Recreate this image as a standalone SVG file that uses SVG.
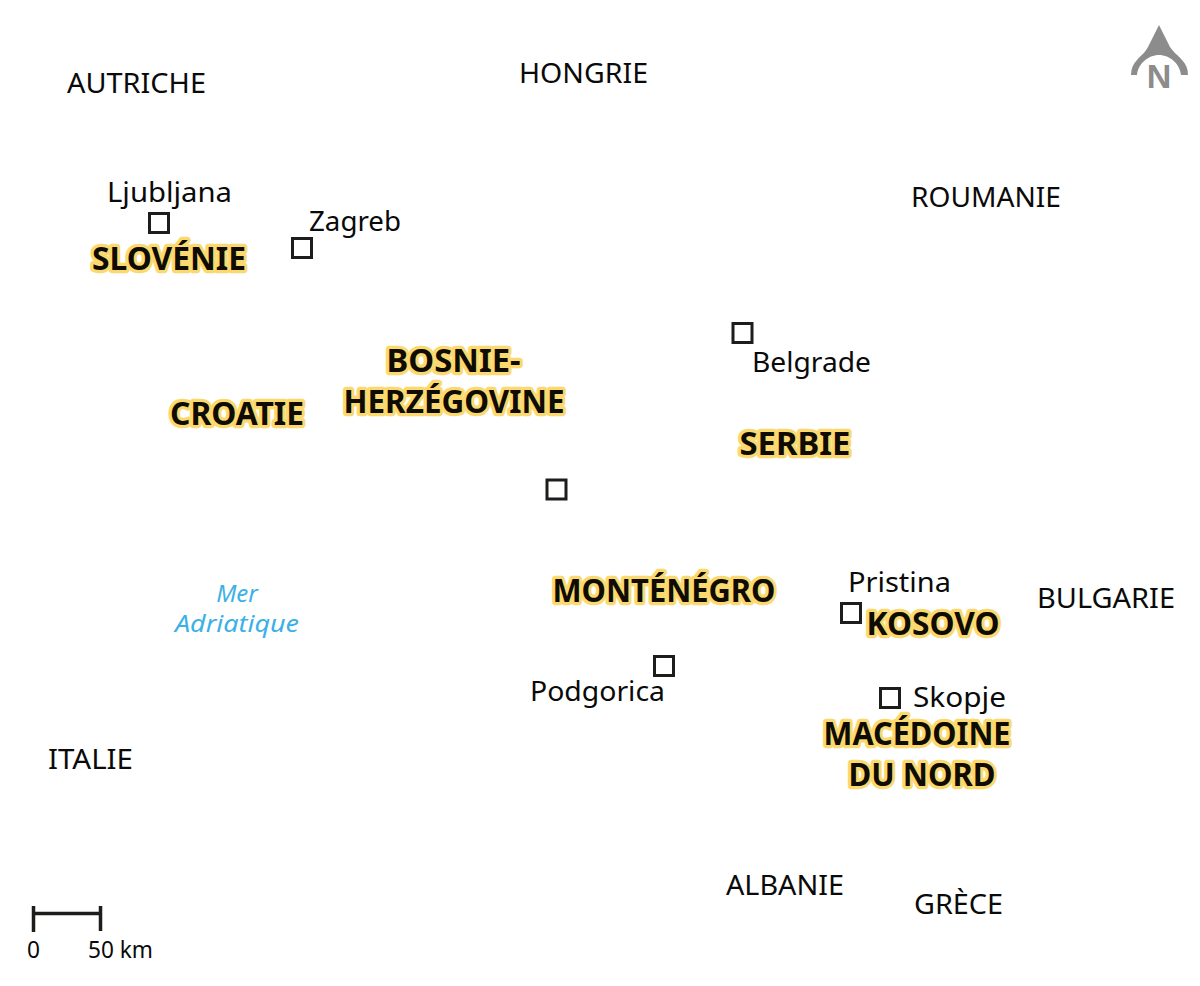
<svg xmlns="http://www.w3.org/2000/svg" width="1200" height="986" viewBox="0 0 1200 986">
<style>
text{font-family:"Noto Sans","Open Sans","Liberation Sans",sans-serif;fill:#0a0a0a}
.c{font-size:28px}
.t{font-size:27px}
.h{font-size:32px;font-weight:700;text-anchor:middle;stroke:#fbd96f;stroke-width:6.500px;paint-order:stroke;stroke-linejoin:round;fill:#0f0c04}
.sea{font-size:24px;font-style:italic;fill:#3cb1e6;text-anchor:middle}
.sc{font-size:23px}
.m{fill:#fff;stroke:#1d1d1b;stroke-width:3px}
</style>
<rect width="1200" height="986" fill="#fff"/>
<g id="neighbours">
<text class="c" x="67" y="93" textLength="139" lengthAdjust="spacingAndGlyphs">AUTRICHE</text>
<text class="c" x="519" y="83" textLength="129" lengthAdjust="spacingAndGlyphs">HONGRIE</text>
<text class="c" x="911" y="206.500" textLength="150" lengthAdjust="spacingAndGlyphs">ROUMANIE</text>
<text class="c" x="1037" y="608" textLength="138" lengthAdjust="spacingAndGlyphs">BULGARIE</text>
<text class="c" x="48" y="769" textLength="85" lengthAdjust="spacingAndGlyphs">ITALIE</text>
<text class="c" x="726" y="895" textLength="118" lengthAdjust="spacingAndGlyphs">ALBANIE</text>
<text class="c" x="914" y="914" textLength="89" lengthAdjust="spacingAndGlyphs">GRÈCE</text>
</g>
<g id="sea">
<text class="sea" x="237" y="602">Mer</text>
<text class="sea" x="237" y="632" textLength="124" lengthAdjust="spacingAndGlyphs">Adriatique</text>
</g>
<g id="slovenie">
<rect class="m" x="149.500" y="213.500" width="19" height="19"/>
<text class="t" x="107" y="201.500" textLength="125" lengthAdjust="spacingAndGlyphs">Ljubljana</text>
<text class="h" x="169" y="269.500" textLength="154" lengthAdjust="spacingAndGlyphs">SLOVÉNIE</text>
</g>
<g id="croatie">
<rect class="m" x="292.500" y="238.500" width="19" height="19"/>
<text class="t" x="309" y="231" textLength="92" lengthAdjust="spacingAndGlyphs">Zagreb</text>
<text class="h" x="237" y="425" textLength="134" lengthAdjust="spacingAndGlyphs">CROATIE</text>
</g>
<g id="bosnie">
<rect class="m" x="547" y="480" width="19" height="19"/>
<text class="h" x="453.500" y="372" textLength="134" lengthAdjust="spacingAndGlyphs">BOSNIE-</text>
<text class="h" x="454" y="413" textLength="221" lengthAdjust="spacingAndGlyphs">HERZÉGOVINE</text>
</g>
<g id="serbie">
<rect class="m" x="733" y="323.500" width="19" height="19"/>
<text class="t" x="752" y="372" textLength="119" lengthAdjust="spacingAndGlyphs">Belgrade</text>
<text class="h" x="795" y="455" textLength="111" lengthAdjust="spacingAndGlyphs">SERBIE</text>
</g>
<g id="montenegro">
<rect class="m" x="654.500" y="656.500" width="19" height="19"/>
<text class="t" x="530" y="700.500" textLength="135" lengthAdjust="spacingAndGlyphs">Podgorica</text>
<text class="h" x="664" y="602" textLength="223" lengthAdjust="spacingAndGlyphs">MONTÉNÉGRO</text>
</g>
<g id="kosovo">
<rect class="m" x="841.500" y="603.500" width="19" height="19"/>
<text class="t" x="848" y="591.500" textLength="103" lengthAdjust="spacingAndGlyphs">Pristina</text>
<text class="h" x="933" y="635" textLength="133" lengthAdjust="spacingAndGlyphs">KOSOVO</text>
</g>
<g id="macedoine">
<rect class="m" x="880.500" y="688.500" width="19" height="19"/>
<text class="t" x="913" y="707" textLength="93" lengthAdjust="spacingAndGlyphs">Skopje</text>
<text class="h" x="917" y="745" textLength="187" lengthAdjust="spacingAndGlyphs">MACÉDOINE</text>
<text class="h" x="922" y="786" textLength="147" lengthAdjust="spacingAndGlyphs">DU NORD</text>
</g>
<g id="north">
<path d="M1159 25 L1170 47 C1174 53 1178 55 1182 60 C1186 64 1188 69 1188 75 L1181 75 C1180 64 1170 55 1159 55 C1148 55 1138 64 1137 75 L1131 75 C1131 69 1133 64 1137 60 C1141 55 1145 53 1148 47Z" fill="#8c8c8c"/>
<text x="1159" y="88" font-size="34" font-weight="700" text-anchor="middle" style="fill:#8c8c8c;font-family:'Liberation Sans',sans-serif">N</text>
</g>
<g id="scale">
<path d="M33.500 906V932M35 913.500H100M100.500 906V931" fill="none" stroke="#1d1d1b" stroke-width="3.500"/>
<text class="sc" x="27" y="958" textLength="13" lengthAdjust="spacingAndGlyphs">0</text>
<text class="sc" x="88" y="958" textLength="65" lengthAdjust="spacingAndGlyphs">50 km</text>
</g>
</svg>
